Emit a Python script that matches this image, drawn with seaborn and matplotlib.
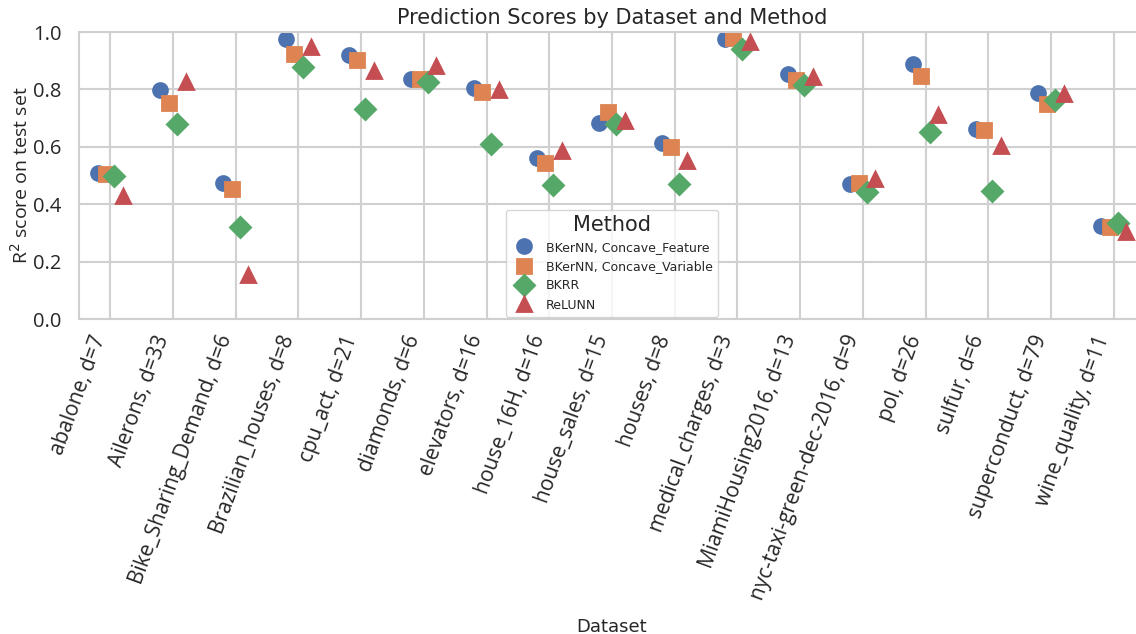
import numpy as np
import matplotlib
matplotlib.use('Agg')
import matplotlib.pyplot as plt
import seaborn as sns
import pandas as pd

datasets = ['abalone, d=7', 'Ailerons, d=33', 'Bike_Sharing_Demand, d=6', 'Brazilian_houses, d=8',
            'cpu_act, d=21', 'diamonds, d=6', 'elevators, d=16', 'house_16H, d=16',
            'house_sales, d=15', 'houses, d=8', 'medical_charges, d=3', 'MiamiHousing2016, d=13',
            'nyc-taxi-green-dec-2016, d=9', 'pol, d=26', 'sulfur, d=6', 'superconduct, d=79',
            'wine_quality, d=11']
methods = ['BKerNN, Concave_Feature', 'BKerNN, Concave_Variable', 'BKRR', 'ReLUNN']

concave_feature = [0.510, 0.798, 0.473, 0.976, 0.921, 0.836, 0.806, 0.560, 0.682, 0.612,
                   0.977, 0.855, 0.469, 0.887, 0.661, 0.789, 0.325]
concave_variable = [0.505, 0.754, 0.453, 0.925, 0.902, 0.836, 0.790, 0.542, 0.720, 0.598,
                    0.980, 0.833, 0.473, 0.848, 0.657, 0.748, 0.322]
bkrr = [0.500, 0.680, 0.322, 0.877, 0.733, 0.825, 0.610, 0.468, 0.678, 0.469,
        0.941, 0.815, 0.444, 0.652, 0.446, 0.763, 0.333]
relunn = [0.430, 0.827, 0.153, 0.949, 0.865, 0.880, 0.798, 0.586, 0.690, 0.550,
          0.966, 0.842, 0.488, 0.711, 0.604, 0.783, 0.302]

rows = []
for m, vals in zip(methods, [concave_feature, concave_variable, bkrr, relunn]):
    for d, v in zip(datasets, vals):
        rows.append({'Dataset': d, 'Method': m, 'score': v})
df = pd.DataFrame(rows)

sns.set_style('whitegrid', {'grid.color': '#d0d0d0', 'axes.edgecolor': '#d0d0d0'})
plt.rcParams['grid.linewidth'] = 1.5
plt.rcParams['axes.linewidth'] = 1.5
fig = plt.figure(figsize=(11.36, 6.34), dpi=100)
ax = fig.add_axes([0.0695, 0.4968, 0.9385, 0.4527])
sns.pointplot(data=df, x='Dataset', y='score', hue='Method', dodge=0.4,
              linestyle='none', markers=['o', 's', 'D', '^'], markersize=10,
              palette='deep', errorbar=None, ax=ax)
ax.set_xlim(-0.5, 16.5)
ax.set_ylim(0, 1.0)
ax.set_yticks(np.arange(0, 1.01, 0.2))
ax.xaxis.grid(True)
ax.yaxis.grid(True)
ax.tick_params(axis='y', pad=9)
ax.tick_params(axis='x', pad=6)
for lab in ax.get_xticklabels():
    lab.set_fontfamily('Open Sans')
    lab.set_fontsize(15)
    lab.set_rotation(70)
    lab.set_ha('right')
for lab in ax.get_yticklabels():
    lab.set_fontfamily('Open Sans')
    lab.set_fontsize(14.5)
ax.set_title('Prediction Scores by Dataset and Method', fontsize=15)
ax.set_xlabel('Dataset', fontsize=13)
ax.xaxis.set_label_coords(0.5, -1.04)
ax.set_ylabel('R$^2$ score on test set', fontsize=14, family='Open Sans', labelpad=1)
ax.legend(title='Method', loc='lower center', fontsize=9, title_fontsize=15,
          borderaxespad=0.2)
fig.savefig('out.png', dpi=100)
